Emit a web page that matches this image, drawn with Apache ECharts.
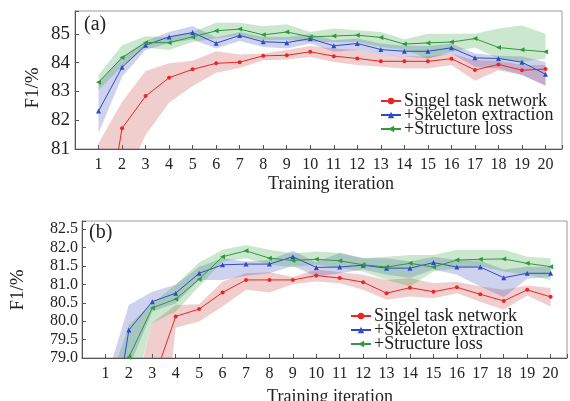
<!DOCTYPE html>
<html><head><meta charset="utf-8">
<script src="https://cdn.jsdelivr.net/npm/echarts@6/dist/echarts.min.js"></script>
<style>html,body{margin:0;padding:0;background:#fff}#c{width:570px;height:401px}</style>
</head><body><div id="c"></div>
<script>
const iterations = [1,2,3,4,5,6,7,8,9,10,11,12,13,14,15,16,17,18,19,20];
const seriesNames = ['Singel task network', '+Skeleton extraction', '+Structure loss'];

// (a)
const redA     = [76.8, 81.72, 82.84, 83.48, 83.77, 83.98, 84.02, 84.24, 84.26, 84.38, 84.23, 84.15, 84.05, 84.05, 84.05, 84.14, 83.75, 83.94, 83.74, 83.78];
const redAUp   = [81.2, 82.64, 83.71, 83.98, 84.07, 84.40, 84.29, 84.32, 84.44, 84.58, 84.50, 84.44, 84.26, 84.23, 84.22, 84.32, 84.09, 84.07, 83.92, 83.92];
const redALo   = [73.0, 79.70, 81.49, 82.61, 83.19, 83.65, 83.82, 84.09, 84.11, 84.20, 84.03, 83.92, 83.86, 83.80, 83.80, 83.92, 83.37, 83.74, 83.57, 83.22];
const blueA    = [82.32, 83.84, 84.61, 84.90, 85.05, 84.68, 84.95, 84.73, 84.70, 84.84, 84.59, 84.67, 84.46, 84.40, 84.40, 84.52, 84.17, 84.15, 84.02, 83.60];
const blueAUp  = [83.34, 84.20, 84.76, 85.07, 85.28, 84.88, 85.07, 84.90, 84.90, 85.00, 84.78, 84.84, 84.67, 84.59, 84.58, 84.67, 84.32, 84.24, 84.22, 84.03];
const blueALo  = [81.55, 83.51, 84.44, 84.69, 84.81, 84.50, 84.76, 84.55, 84.50, 84.67, 84.38, 84.44, 84.26, 84.22, 84.15, 84.32, 83.86, 83.80, 83.57, 83.19];
const greenA   = [83.32, 84.18, 84.70, 84.70, 84.90, 85.11, 85.17, 84.97, 85.07, 84.90, 84.93, 84.96, 84.88, 84.65, 84.69, 84.72, 84.84, 84.53, 84.45, 84.38];
const greenAUp = [83.57, 84.61, 84.92, 84.90, 85.07, 85.39, 85.39, 85.27, 85.34, 85.07, 85.19, 85.13, 85.07, 84.82, 85.01, 85.01, 85.01, 85.19, 85.30, 85.01];
const greenALo = [83.05, 83.86, 84.53, 84.44, 84.72, 84.84, 84.96, 84.78, 84.80, 84.72, 84.72, 84.72, 84.55, 84.44, 84.15, 84.38, 84.53, 84.15, 84.03, 84.15];

// (b)
const redB     = [75.0, 76.5, 78.3, 80.13, 80.33, 80.78, 81.12, 81.12, 81.12, 81.24, 81.17, 81.06, 80.76, 80.91, 80.80, 80.92, 80.73, 80.55, 80.85, 80.66];
const redBUp   = [74.0, 77.5, 79.96, 80.44, 80.46, 81.08, 81.30, 81.33, 81.20, 81.40, 81.33, 81.26, 81.12, 81.17, 81.03, 81.07, 80.94, 80.85, 80.97, 80.90];
const redBLo   = [72.0, 74.0, 74.0, 79.82, 79.99, 80.40, 80.85, 80.78, 81.00, 81.08, 81.03, 80.85, 80.58, 80.67, 80.62, 80.76, 80.53, 80.31, 80.70, 80.40];
const blueB    = [75.8, 79.76, 80.53, 80.76, 81.30, 81.53, 81.55, 81.55, 81.75, 81.46, 81.47, 81.52, 81.44, 81.44, 81.59, 81.47, 81.47, 81.18, 81.30, 81.30];
const blueBUp  = [78.35, 80.44, 80.80, 80.99, 81.48, 81.71, 81.62, 81.66, 81.91, 81.60, 81.86, 81.71, 81.71, 81.62, 81.75, 81.66, 81.64, 81.40, 81.48, 81.47];
const blueBLo  = [74.0, 78.74, 80.26, 80.49, 81.12, 81.12, 81.23, 81.30, 81.50, 81.21, 81.30, 81.40, 81.26, 81.17, 81.40, 81.26, 80.94, 80.65, 81.15, 81.20];
const greenB   = [77.0, 79.02, 80.36, 80.60, 81.14, 81.75, 81.91, 81.71, 81.65, 81.68, 81.64, 81.53, 81.47, 81.57, 81.47, 81.66, 81.68, 81.69, 81.57, 81.48];
const greenBUp = [78.0, 79.90, 80.49, 80.99, 81.59, 81.94, 82.07, 81.94, 81.84, 81.89, 81.85, 81.71, 81.75, 81.80, 81.80, 81.94, 81.94, 81.94, 81.75, 81.71];
const greenBLo = [75.0, 77.65, 79.95, 80.26, 80.94, 81.62, 81.71, 81.53, 81.47, 81.53, 81.44, 81.35, 81.12, 80.94, 81.35, 81.44, 81.49, 81.35, 81.26, 81.12];

const FONT = '"Liberation Serif", "Times New Roman", serif';
const TXT = '#222';
const RED = '#ee2424', BLUE = '#2c4cc4', GREEN = '#2e9a3c';
const RED_BAND = 'rgba(200,80,80,0.28)', BLUE_BAND = 'rgba(70,80,190,0.26)', GREEN_BAND = 'rgba(70,170,80,0.28)';

function pts(arr) { return iterations.map((x, i) => [x, arr[i]]); }

// shaded band between lo and up, drawn as one polygon through the axis scales
function band(ax, lo, up, color) {
  return {
    type: 'custom', xAxisIndex: ax, yAxisIndex: ax, silent: true, z: 1, clip: true,
    data: iterations.map((x, i) => [x, lo[i], up[i]]),
    encode: { x: 0, y: [1, 2] },
    renderItem: function (params, api) {
      if (params.dataIndex !== 0) return null;
      const points = [];
      for (let i = 0; i < iterations.length; i++) points.push(api.coord([iterations[i], up[i]]));
      for (let i = iterations.length - 1; i >= 0; i--) points.push(api.coord([iterations[i], lo[i]]));
      const cs = params.coordSys;
      return {
        type: 'polygon', shape: { points: points },
        style: { fill: color, stroke: null },
        clipPath: { type: 'rect', shape: { x: cs.x, y: cs.y, width: cs.width, height: cs.height } }
      };
    }
  };
}
function line(name, ax, vals, color, symbol, size, rot) {
  return { type: 'line', name: name, xAxisIndex: ax, yAxisIndex: ax, data: pts(vals),
    symbol: symbol, symbolSize: size, symbolRotate: rot || 0, showSymbol: true,
    lineStyle: { color: color, width: 1 }, itemStyle: { color: color }, z: 3, emphasis: { disabled: true } };
}

const isInt = v => Math.abs(v - Math.round(v)) < 1e-6;

function xAxis(gi, margin) {
  return { type: 'value', gridIndex: gi, min: 0, max: 20.7, interval: 1,
    axisLine: { lineStyle: { color: '#555', width: 1 } },
    axisTick: { inside: true, length: 4, lineStyle: { color: '#555' } },
    splitLine: { show: false },
    axisLabel: { color: TXT, fontFamily: FONT, fontSize: 16, margin: margin, showMinLabel: true, showMaxLabel: true,
      formatter: v => (isInt(v) && v >= 1 && v <= 20) ? String(Math.round(v)) : '' } };
}

const legendText = { fontFamily: FONT, fontSize: 18, color: TXT, lineHeight: 14, padding: [0, 0, 0, -2] };

const option = {
  animation: false,
  backgroundColor: '#fff',
  grid: [
    { left: 75, top: 11, width: 487, height: 138, show: true, borderColor: '#999', borderWidth: 1 },
    { left: 82, top: 221, width: 486, height: 137, show: true, borderColor: '#999', borderWidth: 1 }
  ],
  xAxis: [xAxis(0, 8), xAxis(1, 8)],
  yAxis: [
    { type: 'value', gridIndex: 0, min: 81, max: 85.8, interval: 1,
      axisLine: { show: true, lineStyle: { color: '#555' } },
      axisTick: { show: true, inside: true, length: 4, lineStyle: { color: '#555' } },
      splitLine: { show: false },
      axisLabel: { color: TXT, fontFamily: FONT, fontSize: 19, margin: 5,
        formatter: v => isInt(v) ? String(Math.round(v)) : '' } },
    { type: 'value', gridIndex: 1, min: 79, max: 82.72, interval: 0.5,
      axisLine: { show: true, lineStyle: { color: '#555' } },
      axisTick: { show: true, inside: true, length: 4, lineStyle: { color: '#555' } },
      splitLine: { show: false },
      axisLabel: { color: TXT, fontFamily: FONT, fontSize: 16, margin: 4,
        formatter: v => isInt(v * 2) ? v.toFixed(1) : '' } }
  ],
  legend: [
    { data: seriesNames, orient: 'vertical', left: 380, top: 92, itemGap: -4, itemWidth: 20, itemHeight: 8,
      padding: 0, selectedMode: false, textStyle: legendText },
    { data: seriesNames, orient: 'vertical', left: 350, top: 307, itemGap: -4, itemWidth: 20, itemHeight: 8,
      padding: 0, selectedMode: false, textStyle: legendText }
  ],
  graphic: [
    { type: 'text', left: 84, top: 15, style: { text: '(a)', font: '20px ' + FONT, fill: TXT } },
    { type: 'text', left: 89, top: 223, style: { text: '(b)', font: '20px ' + FONT, fill: TXT } },
    { type: 'text', x: 331, y: 184, style: { text: 'Training iteration', font: '18px ' + FONT, fill: TXT, align: 'center', verticalAlign: 'middle' } },
    { type: 'text', x: 330, y: 397, style: { text: 'Training iteration', font: '18px ' + FONT, fill: TXT, align: 'center', verticalAlign: 'middle' } },
    { type: 'text', x: 33, y: 88, rotation: Math.PI / 2, style: { text: 'F1/%', font: '19px ' + FONT, fill: TXT, align: 'center', verticalAlign: 'middle' } },
    { type: 'text', x: 18, y: 290, rotation: Math.PI / 2, style: { text: 'F1/%', font: '19px ' + FONT, fill: TXT, align: 'center', verticalAlign: 'middle' } }
  ],
  series: [
    band(0, redALo, redAUp, RED_BAND),
    band(0, blueALo, blueAUp, BLUE_BAND),
    band(0, greenALo, greenAUp, GREEN_BAND),
    band(1, redBLo, redBUp, RED_BAND),
    band(1, blueBLo, blueBUp, BLUE_BAND),
    band(1, greenBLo, greenBUp, GREEN_BAND),
    line(seriesNames[0], 0, redA, RED, 'circle', 4),
    line(seriesNames[1], 0, blueA, BLUE, 'triangle', 5),
    line(seriesNames[2], 0, greenA, GREEN, 'triangle', 5, 90),
    line(seriesNames[0], 1, redB, RED, 'circle', 4),
    line(seriesNames[1], 1, blueB, BLUE, 'triangle', 5),
    line(seriesNames[2], 1, greenB, GREEN, 'triangle', 5, 90)
  ]
};
const chart = echarts.init(document.getElementById('c'), null, { renderer: 'canvas' });
chart.setOption(option);
</script>
</body></html>
